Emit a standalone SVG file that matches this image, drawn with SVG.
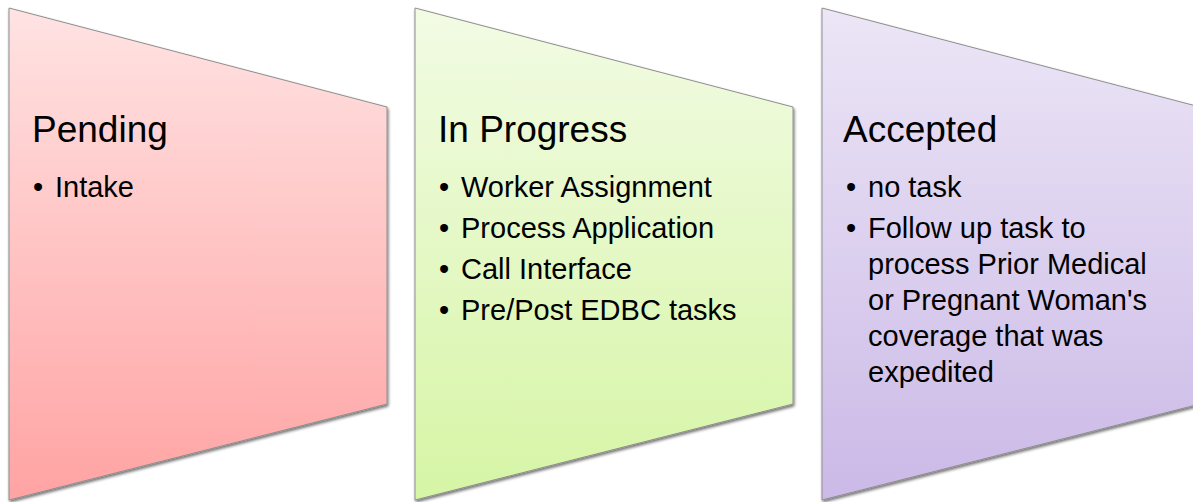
<svg xmlns="http://www.w3.org/2000/svg" width="1193" height="502" viewBox="0 0 1193 502">
  <defs>
    <linearGradient id="gPending" x1="0" y1="0" x2="0" y2="1">
      <stop offset="0" stop-color="#ffe3e3"/>
      <stop offset="1" stop-color="#ffa3a3"/>
    </linearGradient>
    <linearGradient id="gProgress" x1="0" y1="0" x2="0" y2="1">
      <stop offset="0" stop-color="#f2fbe4"/>
      <stop offset="1" stop-color="#d6f5a5"/>
    </linearGradient>
    <linearGradient id="gAccepted" x1="0" y1="0" x2="0" y2="1">
      <stop offset="0" stop-color="#ece6f6"/>
      <stop offset="1" stop-color="#cbb9e7"/>
    </linearGradient>
    <filter id="shadow" x="-5%" y="-5%" width="115%" height="115%">
      <feGaussianBlur in="SourceAlpha" stdDeviation="1.5"/>
      <feOffset dx="1" dy="2" result="b"/>
      <feComponentTransfer><feFuncA type="linear" slope="0.55"/></feComponentTransfer>
      <feMerge><feMergeNode/><feMergeNode in="SourceGraphic"/></feMerge>
    </filter>
  </defs>
  <style>
    .shape { stroke: #8f8f8f; stroke-width: 1; filter: url(#shadow); }
    .head { font-family: "Liberation Sans", Arial, sans-serif; font-size: 37px; fill: #000; }
    .item { font-family: "Liberation Sans", Arial, sans-serif; font-size: 29px; fill: #000; }
  </style>

  <!-- Stage 1: Pending -->
  <g id="pending">
    <polygon class="shape" points="9,8 387,107 387,404 9,500" fill="url(#gPending)"/>
    <text class="head" x="32" y="142">Pending</text>
    <text class="item" x="33" y="197">•</text>
    <text class="item" x="55" y="197">Intake</text>
  </g>

  <!-- Stage 2: In Progress -->
  <g id="in-progress">
    <polygon class="shape" points="415,8 793,107 793,404 415,500" fill="url(#gProgress)"/>
    <text class="head" x="438" y="142">In Progress</text>
    <g class="item">
      <text x="439" y="197">•</text>
      <text x="461" y="197">Worker Assignment</text>
      <text x="439" y="238">•</text>
      <text x="461" y="238">Process Application</text>
      <text x="439" y="279">•</text>
      <text x="461" y="279">Call Interface</text>
      <text x="439" y="320">•</text>
      <text x="461" y="320">Pre/Post EDBC tasks</text>
    </g>
  </g>

  <!-- Stage 3: Accepted -->
  <g id="accepted">
    <polygon class="shape" points="822,8 1200,107 1200,404 822,500" fill="url(#gAccepted)"/>
    <text class="head" x="843" y="142">Accepted</text>
    <g class="item">
      <text x="846" y="197">•</text>
      <text x="868" y="197">no task</text>
      <text x="846" y="238">•</text>
      <text x="868" y="238">Follow up task to</text>
      <text x="868" y="274">process Prior Medical</text>
      <text x="868" y="310">or Pregnant Woman's</text>
      <text x="868" y="346">coverage that was</text>
      <text x="868" y="382">expedited</text>
    </g>
  </g>

  <!-- no connectors in this diagram -->
  <g id="connectors"/>
</svg>
